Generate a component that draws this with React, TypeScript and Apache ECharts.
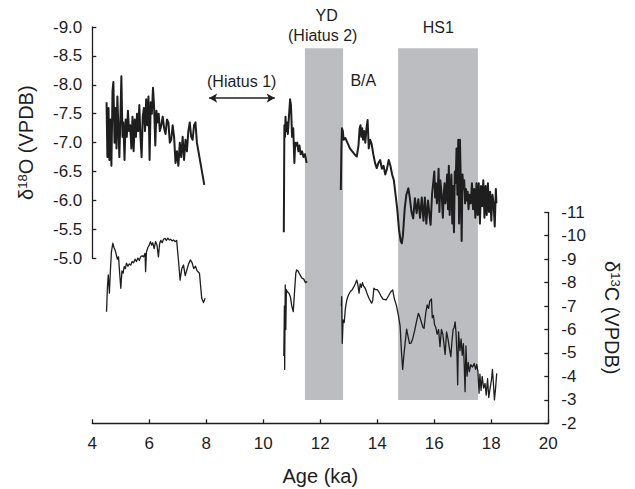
import React, { useEffect, useRef } from "react";
import * as echarts from "echarts";

// δ18O segments [age (ka), ‰ VPDB]
const o18Seg1: number[][] = [
  [4.5, -7.7], [4.53, -6.75], [4.57, -7.6], [4.6, -6.7], [4.64, -7.4], [4.67, -6.6], [4.71, -7.9], [4.74, -8.05],
  [4.78, -7.0], [4.81, -7.6], [4.85, -6.9], [4.88, -7.8], [4.92, -7.2], [4.95, -6.75], [4.99, -7.5], [5.02, -8.15],
  [5.06, -7.1], [5.09, -7.35], [5.13, -6.7], [5.17, -7.4], [5.21, -7.1], [5.25, -7.55], [5.29, -7.2], [5.33, -7.3],
  [5.37, -6.9], [5.41, -7.45], [5.45, -6.85], [5.49, -7.4], [5.53, -7.1], [5.57, -7.5], [5.61, -7.2], [5.65, -7.65],
  [5.69, -7.1], [5.73, -6.75], [5.77, -7.45], [5.81, -7.6], [5.85, -7.2], [5.89, -7.75], [5.93, -7.3], [5.97, -7.8],
  [6.01, -6.7], [6.05, -7.7], [6.09, -7.5], [6.13, -7.95], [6.17, -7.6], [6.21, -6.95], [6.25, -7.55], [6.29, -7.35],
  [6.33, -7.5], [6.37, -7.2], [6.42, -7.3], [6.47, -7.45], [6.52, -7.25], [6.57, -7.15], [6.62, -7.4], [6.67, -7.35],
  [6.72, -7.0], [6.77, -7.05], [6.82, -7.3], [6.87, -7.1], [6.92, -6.65], [6.97, -6.85], [7.02, -6.6], [7.07, -7.0],
  [7.12, -6.75], [7.17, -7.1], [7.22, -6.7], [7.27, -7.05], [7.32, -6.85], [7.37, -7.2], [7.42, -7.35], [7.47, -7.1],
  [7.52, -7.05], [7.57, -7.3], [7.62, -7.35], [7.67, -7.0], [7.93, -6.27],
];
const o18Seg2: number[][] = [
  [10.72, -5.45], [10.73, -6.4], [10.74, -7.3], [10.76, -7.1], [10.78, -7.45], [10.8, -7.2], [10.83, -7.35],
  [10.86, -7.15], [10.9, -7.45], [10.94, -7.75], [10.97, -7.65], [11.01, -7.1], [11.05, -7.25], [11.09, -6.65],
  [11.12, -7.0], [11.15, -6.95], [11.19, -7.0], [11.23, -6.85], [11.27, -6.95], [11.31, -6.8], [11.36, -6.85],
  [11.41, -6.75], [11.46, -6.8], [11.52, -6.65],
];
const o18Seg3: number[][] = [
  [12.72, -6.18], [12.74, -6.9], [12.76, -7.25], [12.79, -7.2], [12.82, -7.05], [12.88, -7.08], [12.95, -7.0],
  [13.04, -6.9], [13.12, -6.85], [13.2, -6.8], [13.28, -6.76], [13.34, -6.95], [13.38, -7.25], [13.41, -7.3],
  [13.44, -7.1], [13.47, -7.25], [13.5, -7.05], [13.54, -7.2], [13.58, -7.0], [13.62, -7.25], [13.66, -7.39],
  [13.7, -6.9], [13.75, -7.05], [13.8, -6.98], [13.86, -6.8], [13.92, -6.65], [13.98, -6.56], [14.04, -6.65],
  [14.1, -6.7], [14.16, -6.55], [14.22, -6.6], [14.28, -6.45], [14.34, -6.55], [14.4, -6.7], [14.46, -6.6],
  [14.52, -6.45], [14.58, -6.35], [14.64, -6.1], [14.7, -5.85], [14.76, -5.5], [14.82, -5.3], [14.86, -5.26],
  [14.9, -5.4], [14.96, -5.85], [15.02, -6.1], [15.09, -6.21], [15.14, -6.05], [15.2, -5.8], [15.26, -5.69],
  [15.32, -6.04], [15.38, -5.78], [15.44, -6.02], [15.5, -5.7], [15.56, -6.05], [15.62, -5.65], [15.67, -6.05],
  [15.72, -5.6], [15.78, -6.0], [15.83, -5.75], [15.87, -5.58], [15.92, -6.1], [15.97, -6.35], [16.0, -6.5],
  [16.03, -6.05], [16.06, -6.3], [16.09, -5.95], [16.12, -6.1], [16.15, -6.55], [16.18, -5.8], [16.21, -6.35],
  [16.24, -6.2], [16.27, -6.0], [16.3, -5.7], [16.33, -6.1], [16.36, -6.3], [16.39, -5.95], [16.42, -6.1],
  [16.45, -6.45], [16.48, -5.85], [16.51, -6.6], [16.54, -5.75], [16.57, -6.2], [16.6, -6.45], [16.63, -5.6],
  [16.66, -6.25], [16.69, -5.45], [16.72, -6.5], [16.75, -6.3], [16.78, -6.9], [16.81, -6.1], [16.84, -7.05],
  [16.87, -5.6], [16.9, -7.05], [16.93, -6.3], [16.96, -5.3], [16.99, -6.45], [17.02, -6.2], [17.05, -6.35],
  [17.08, -5.95], [17.11, -6.2], [17.14, -6.0], [17.17, -6.15], [17.2, -5.85], [17.24, -6.1], [17.28, -5.95],
  [17.32, -6.3], [17.36, -5.85], [17.4, -6.2], [17.44, -5.7], [17.48, -6.3], [17.52, -5.75], [17.56, -6.3],
  [17.6, -5.6], [17.64, -6.25], [17.68, -5.9], [17.72, -6.35], [17.76, -5.7], [17.8, -6.25], [17.84, -5.75],
  [17.88, -6.3], [17.92, -5.8], [17.96, -6.15], [18.0, -5.65], [18.04, -6.1], [18.08, -5.95], [18.12, -5.55],
  [18.16, -6.2], [18.18, -5.95],
];

// δ13C segments [age (ka), ‰ VPDB]
const c13Seg1: number[][] = [
  [4.5, -6.76], [4.53, -7.8], [4.56, -8.33], [4.6, -7.55], [4.63, -8.4], [4.67, -9.3], [4.72, -9.68], [4.76, -9.5],
  [4.8, -9.39], [4.84, -9.2], [4.88, -9.0], [4.92, -9.1], [4.96, -8.4], [5.0, -7.76], [5.04, -8.5], [5.08, -8.4],
  [5.12, -8.68], [5.16, -8.6], [5.2, -8.83], [5.25, -8.7], [5.3, -8.8], [5.35, -8.75], [5.4, -8.9], [5.45, -8.85],
  [5.5, -9.0], [5.55, -8.9], [5.6, -9.05], [5.65, -8.95], [5.7, -9.1], [5.75, -9.15], [5.8, -9.1], [5.85, -9.25],
  [5.87, -8.47], [5.9, -9.3], [5.95, -9.5], [6.0, -9.6], [6.04, -9.75], [6.08, -9.6], [6.12, -9.7], [6.17, -9.45],
  [6.22, -9.75], [6.27, -9.6], [6.32, -9.1], [6.36, -9.65], [6.4, -9.8], [6.45, -9.7], [6.5, -9.85], [6.55, -9.89],
  [6.6, -9.8], [6.65, -9.9], [6.7, -9.82], [6.75, -9.85], [6.8, -9.78], [6.85, -9.82], [6.9, -9.75], [6.96, -9.8],
  [7.02, -9.0], [7.08, -8.11], [7.14, -8.6], [7.2, -8.75], [7.26, -8.3], [7.32, -8.55], [7.38, -8.8], [7.44, -8.97],
  [7.5, -8.85], [7.56, -8.6], [7.62, -8.7], [7.68, -8.5], [7.76, -8.4], [7.84, -7.33], [7.9, -7.15], [7.96, -7.33],
];
const c13Seg2: number[][] = [
  [10.72, -4.87], [10.74, -7.0], [10.75, -4.3], [10.77, -7.9], [10.79, -6.0], [10.81, -7.7], [10.85, -7.6],
  [10.9, -7.55], [10.95, -7.4], [11.0, -7.0], [11.05, -6.76], [11.09, -7.5], [11.14, -8.4], [11.17, -8.54],
  [11.22, -8.5], [11.28, -8.35], [11.35, -8.2], [11.42, -8.15], [11.48, -8.0], [11.54, -8.05],
];
const c13Seg3: number[][] = [
  [12.74, -7.0], [12.75, -7.4], [12.77, -5.41], [12.8, -6.41], [12.84, -6.3], [12.88, -6.9], [12.93, -7.26],
  [12.98, -7.45], [13.05, -7.61], [13.12, -7.7], [13.18, -7.83], [13.23, -7.95], [13.28, -8.11], [13.32, -7.9],
  [13.36, -7.55], [13.4, -7.95], [13.44, -7.8], [13.48, -8.0], [13.52, -7.85], [13.58, -7.75], [13.65, -7.5],
  [13.72, -7.3], [13.8, -7.12], [13.84, -7.25], [13.88, -7.76], [13.94, -7.7], [14.0, -7.7], [14.06, -7.6],
  [14.12, -7.45], [14.2, -7.3], [14.31, -7.26], [14.4, -7.45], [14.47, -7.6], [14.54, -7.69], [14.6, -7.3],
  [14.67, -7.03], [14.74, -6.6], [14.8, -6.16], [14.85, -5.0], [14.89, -4.3], [14.94, -5.0], [14.98, -5.45],
  [15.03, -6.02], [15.08, -5.7], [15.13, -5.41], [15.18, -5.41], [15.24, -5.6], [15.31, -5.95], [15.37, -6.3],
  [15.44, -6.69], [15.49, -6.55], [15.55, -6.3], [15.6, -6.1], [15.64, -6.05], [15.7, -6.7], [15.75, -7.05],
  [15.8, -6.9], [15.84, -7.2], [15.87, -7.26], [15.9, -7.3], [15.93, -6.5], [15.97, -6.6], [16.01, -6.2],
  [16.05, -6.1], [16.1, -5.8], [16.15, -6.0], [16.2, -5.27], [16.25, -6.0], [16.3, -5.8], [16.38, -4.94],
  [16.43, -5.9], [16.48, -5.6], [16.53, -5.2], [16.58, -4.84], [16.62, -5.5], [16.66, -6.0], [16.7, -6.1],
  [16.73, -6.33], [16.76, -5.9], [16.8, -4.8], [16.82, -3.64], [16.85, -5.9], [16.9, -5.1], [16.94, -5.6],
  [16.98, -4.9], [17.02, -5.4], [17.05, -4.5], [17.08, -3.35], [17.11, -5.3], [17.15, -4.01], [17.19, -4.6],
  [17.23, -4.2], [17.28, -4.5], [17.34, -4.4], [17.4, -4.55], [17.45, -4.3], [17.49, -4.51], [17.53, -4.2],
  [17.57, -3.28], [17.6, -4.1], [17.64, -3.4], [17.68, -4.0], [17.73, -3.5], [17.78, -3.7], [17.82, -3.2],
  [17.87, -3.9], [17.91, -3.1], [17.96, -3.5], [18.01, -3.9], [18.04, -4.3], [18.08, -3.6], [18.11, -3.0],
  [18.15, -3.5], [18.19, -4.13],
];

// shaded intervals (ka)
const bands = [
  { name: "YD", from: 11.46, to: 12.8 },
  { name: "HS1", from: 14.73, to: 17.53 },
];
// Hiatus 1 arrow span (ka) and its δ18O level
const hiatus1 = { from: 8.1, to: 10.4, level: -7.77 };

const xTicks = { min: 4, max: 20, interval: 2 };
const o18Ticks = { min: -9, max: -5, interval: 0.5 };
const c13Ticks = { min: -11, max: -2, interval: 1 };

const FONT = "'Liberation Sans', Arial, sans-serif";
const INK = "#1e1e1e";

export default function App() {
  const ref = useRef<HTMLDivElement>(null);
  useEffect(() => {
    if (!ref.current) return;
    const chart = echarts.init(ref.current, null, { renderer: "svg" });
    const axisLine = { show: true, lineStyle: { color: INK, width: 1.3 } };
    const tick = { show: true, inside: true, length: 4, lineStyle: { color: INK, width: 1.3 } };
    const lbl = { fontSize: 17, fontFamily: FONT, color: INK };
    const L = 92.3;
    const R = 635 - 548.3;
    const line = (data: number[][], xi: number, yi: number, w: number, extra: any = {}) => ({
      type: "line",
      xAxisIndex: xi,
      yAxisIndex: yi,
      data,
      showSymbol: false,
      symbol: "none",
      z: 3,
      lineStyle: { color: INK, width: w, join: "round" },
      ...extra,
    });
    const rich = {
      a: { fontSize: 20, fontFamily: FONT, color: INK },
      s: { fontSize: 13, fontFamily: FONT, color: INK, verticalAlign: "top" },
    };
    chart.setOption({
      animation: false,
      backgroundColor: "#ffffff",
      grid: [
        { left: L, right: R, top: 27, height: 231.3 },
        { left: L, right: R, top: 212.3, height: 211 },
        { left: L, right: R, top: 48.3, height: 351.7 },
      ],
      xAxis: [
        { type: "value", gridIndex: 0, ...xTicks, show: false },
        {
          type: "value",
          gridIndex: 1,
          ...xTicks,
          axisLine,
          axisTick: tick,
          splitLine: { show: false },
          axisLabel: { ...lbl, margin: 12 },
          name: "Age (ka)",
          nameLocation: "middle",
          nameGap: 43,
          nameTextStyle: { fontSize: 20, fontFamily: FONT, color: INK },
        },
        { type: "value", gridIndex: 2, ...xTicks, show: false },
      ],
      yAxis: [
        {
          type: "value",
          gridIndex: 0,
          ...o18Ticks,
          inverse: true,
          axisLine,
          axisTick: tick,
          splitLine: { show: false },
          axisLabel: { ...lbl, margin: 10, formatter: (v: number) => v.toFixed(1) },
          name: "{a|δ}{s|18}{a|O (VPDB)}",
          nameLocation: "middle",
          nameRotate: 90,
          nameGap: 56,
          nameTextStyle: { rich },
        },
        {
          type: "value",
          gridIndex: 1,
          position: "right",
          ...c13Ticks,
          inverse: true,
          axisLine,
          axisTick: tick,
          splitLine: { show: false },
          axisLabel: { ...lbl, margin: 13 },
          name: "{a|δ}{s|13}{a|C (VPDB)}",
          nameLocation: "middle",
          nameRotate: -90,
          nameGap: 54,
          nameTextStyle: { rich },
        },
        { type: "value", gridIndex: 2, min: 0, max: 1, show: false },
      ],
      series: [
        {
          type: "line",
          xAxisIndex: 2,
          yAxisIndex: 2,
          data: [[4, 0]],
          symbol: "none",
          showSymbol: false,
          z: 1,
          lineStyle: { opacity: 0 },
          markArea: {
            silent: true,
            itemStyle: { color: "#bcbdc0" },
            data: bands.map((b) => [{ xAxis: b.from }, { xAxis: b.to }]),
          },
        },
        line(o18Seg1, 0, 0, 2, {
          markLine: {
            silent: true,
            symbol: ["arrow", "arrow"],
            symbolSize: [7, 8],
            label: { show: false },
            lineStyle: { color: INK, width: 1.5, type: "solid" },
            data: [[{ coord: [hiatus1.from, hiatus1.level] }, { coord: [hiatus1.to, hiatus1.level] }]],
          },
        }),
        line(o18Seg2, 0, 0, 2),
        line(o18Seg3, 0, 0, 2),
        line(c13Seg1, 1, 1, 1.3),
        line(c13Seg2, 1, 1, 1.3),
        line(c13Seg3, 1, 1, 1.3),
      ],
      graphic: [
        { type: "text", x: 326.7, y: 15, style: { text: "YD", fontSize: 16, fontFamily: FONT, fill: INK, align: "center", verticalAlign: "middle" } },
        { type: "text", x: 322.7, y: 35, style: { text: "(Hiatus 2)", fontSize: 16, fontFamily: FONT, fill: INK, align: "center", verticalAlign: "middle" } },
        { type: "text", x: 438.3, y: 27.7, style: { text: "HS1", fontSize: 16, fontFamily: FONT, fill: INK, align: "center", verticalAlign: "middle" } },
        { type: "text", x: 363.3, y: 80, style: { text: "B/A", fontSize: 16, fontFamily: FONT, fill: INK, align: "center", verticalAlign: "middle" } },
        { type: "text", x: 241.7, y: 81.7, style: { text: "(Hiatus 1)", fontSize: 16, fontFamily: FONT, fill: INK, align: "center", verticalAlign: "middle" } },
      ],
    });
    return () => chart.dispose();
  }, []);
  return <div ref={ref} style={{ position: "absolute", left: 0, top: 0, width: 635, height: 489 }} />;
}
